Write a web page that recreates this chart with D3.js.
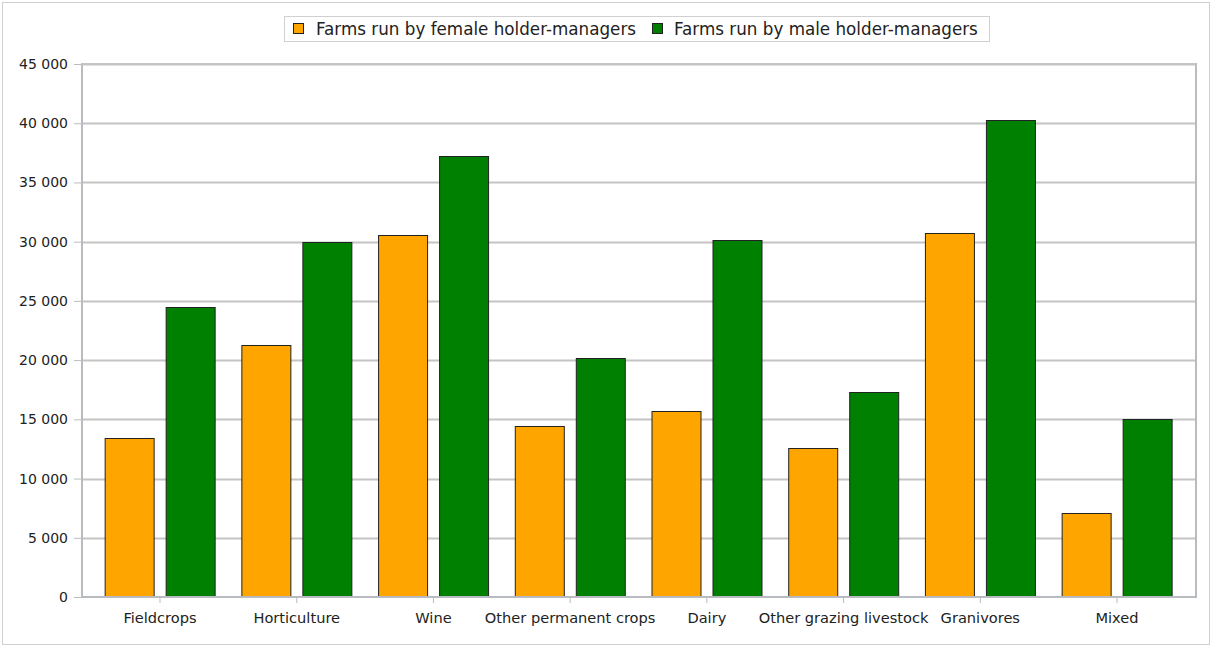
<!DOCTYPE html>
<html>
<head>
<meta charset="utf-8">
<script src="https://cdn.jsdelivr.net/npm/d3@7"></script>
<style>
  html, body { margin: 0; padding: 0; background: #fff; }
  svg { display: block; font-family: "DejaVu Sans", sans-serif; }
</style>
</head>
<body>
<svg id="chart" width="1212" height="646"></svg>
<script>
// Farm types (x categories)
const categories = ["Fieldcrops", "Horticulture", "Wine", "Other permanent crops", "Dairy",
                    "Other grazing livestock", "Granivores", "Mixed"];
// Number of farms by sex of the holder-manager
const femaleFarms = [13450, 21300, 30550, 14450, 15700, 12600, 30700, 7100];
const maleFarms   = [24450, 29950, 37200, 20200, 30100, 17300, 40250, 15000];
const seriesNames = ["Farms run by female holder-managers", "Farms run by male holder-managers"];
const seriesColors = ["#FFA500", "#008000"];
const yTicks = [0, 5000, 10000, 15000, 20000, 25000, 30000, 35000, 40000, 45000];

const svg = d3.select("#chart");
const W = 1212, H = 646;
const plot = { left: 82, right: 1196, top: 64, bottom: 597 };

// outer frame
svg.append("rect").attr("x", 2.5).attr("y", 2.5).attr("width", W - 5).attr("height", H - 4)
  .attr("fill", "none").attr("stroke", "#d0d0d0").attr("stroke-width", 1);

const y = d3.scaleLinear().domain([0, 45000]).range([plot.bottom, plot.top]);
const x = d3.scaleBand().domain(categories).range([91.65, 1185.35]).padding(0);
const step = x.bandwidth();
const xi = d3.scaleBand().domain(seriesNames)
  .range([step / 2 - 55, step / 2 + 55]).paddingInner(12 / 61).paddingOuter(0);

const fmt = v => d3.format(",")(v).replace(/,/g, " ");

// horizontal gridlines
svg.append("g").selectAll("line").data(yTicks.filter(t => t > 0)).join("line")
  .attr("x1", plot.left).attr("x2", plot.right)
  .attr("y1", d => Math.round(y(d)) + 0.5).attr("y2", d => Math.round(y(d)) + 0.5)
  .attr("stroke", "#c4c4c4").attr("stroke-width", 2);

// y axis
const yAxis = d3.axisLeft(y).tickValues(yTicks).tickFormat(fmt).tickSize(8).tickPadding(6);
const gy = svg.append("g").attr("transform", `translate(${plot.left},0)`).call(yAxis);
gy.select(".domain").remove();
gy.selectAll(".tick line").attr("stroke", "#b8bcc0").attr("stroke-width", 1);
gy.selectAll(".tick text").style("font-size", "14px").style("font-family", "'DejaVu Sans'").attr("fill", "#222");

// bars
const groups = svg.append("g").selectAll("g").data(categories).join("g")
  .attr("transform", d => `translate(${x(d)},0)`);
groups.selectAll("rect")
  .data((d, i) => [femaleFarms[i], maleFarms[i]].map((v, k) => ({ key: seriesNames[k], v, k })))
  .join("rect")
  .attr("x", d => Math.round(xi(d.key)) + 0.5)
  .attr("y", d => Math.round(y(d.v)) + 0.5)
  .attr("width", xi.bandwidth())
  .attr("height", d => plot.bottom - Math.round(y(d.v)) - 0.5)
  .attr("fill", d => seriesColors[d.k])
  .attr("stroke", "#222").attr("stroke-width", 1);

// plot frame (left, right, bottom axis lines)
svg.append("line").attr("x1", plot.left).attr("x2", plot.left)
  .attr("y1", plot.top - 1).attr("y2", plot.bottom + 1).attr("stroke", "#b8bcc0").attr("stroke-width", 2);
svg.append("line").attr("x1", plot.right).attr("x2", plot.right)
  .attr("y1", plot.top - 1).attr("y2", plot.bottom + 1).attr("stroke", "#b8bcc0").attr("stroke-width", 2);
svg.append("line").attr("x1", plot.left).attr("x2", plot.right)
  .attr("y1", plot.bottom).attr("y2", plot.bottom).attr("stroke", "#b8bcc0").attr("stroke-width", 2);
svg.append("line").attr("x1", plot.left).attr("x2", plot.right)
  .attr("y1", plot.top).attr("y2", plot.top).attr("stroke", "#c4c4c4").attr("stroke-width", 2);

// x axis
const xAxis = d3.axisBottom(x).tickSize(6).tickPadding(10);
const gx = svg.append("g").attr("transform", `translate(0,${plot.bottom})`).call(xAxis);
gx.select(".domain").remove();
gx.selectAll(".tick line").attr("stroke", "#b8bcc0").attr("stroke-width", 1);
gx.selectAll(".tick text").style("font-size", "14.6px").style("font-family", "'DejaVu Sans'").attr("fill", "#222");

// legend
const legend = svg.append("g");
legend.append("rect").attr("x", 284.5).attr("y", 16.5).attr("width", 705).attr("height", 25)
  .attr("fill", "#fff").attr("stroke", "#d0d0d0");
const legendItems = [{ x: 293, tx: 316 }, { x: 652, tx: 674 }];
legendItems.forEach((p, k) => {
  legend.append("rect").attr("x", p.x + 0.5).attr("y", 23.5).attr("width", 10).attr("height", 10)
    .attr("fill", seriesColors[k]).attr("stroke", "#222");
  legend.append("text").attr("x", p.tx).attr("y", 35)
    .style("font-size", "16.75px").style("font-family", "'DejaVu Sans'").attr("fill", "#222")
    .text(seriesNames[k]);
});
</script>
</body>
</html>
